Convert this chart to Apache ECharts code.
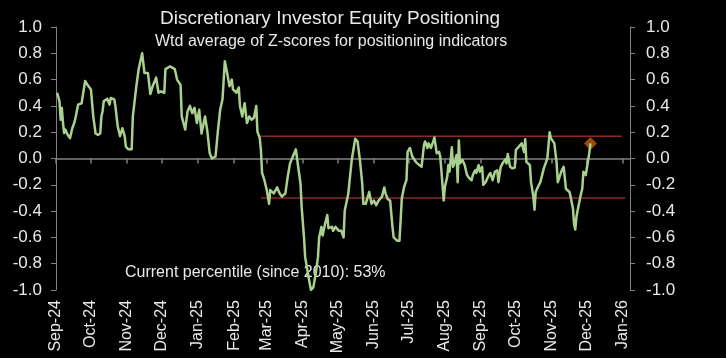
<!DOCTYPE html>
<html>
<head>
<meta charset="utf-8">
<script src="https://cdn.jsdelivr.net/npm/echarts@6/dist/echarts.min.js"></script>
<style>
html,body{margin:0;padding:0;background:#000;}
#chart{width:726px;height:358px;}
</style>
</head>
<body>
<div id="chart"></div>
<script>
// ---- data ----
const titleText = 'Discretionary Investor Equity Positioning';
const subtitleText = 'Wtd average of Z-scores for positioning indicators';
const noteText = 'Current percentile (since 2010): 53%';

const tickDates = ['2024-09-01','2024-10-01','2024-11-01','2024-12-01','2025-01-01','2025-02-01','2025-03-01','2025-04-01','2025-05-01','2025-06-01','2025-07-01','2025-08-01','2025-09-01','2025-10-01','2025-11-01','2025-12-01','2026-01-01'];
const tickLabels = ['Sep-24','Oct-24','Nov-24','Dec-24','Jan-25','Feb-25','Mar-25','Apr-25','May-25','Jun-25','Jul-25','Aug-25','Sep-25','Oct-25','Nov-25','Dec-25','Jan-26'];

const dates = ['2024-09-02','2024-09-04','2024-09-05','2024-09-06','2024-09-07','2024-09-08','2024-09-09','2024-09-11','2024-09-13','2024-09-15','2024-09-17','2024-09-18','2024-09-20','2024-09-23','2024-09-24','2024-09-26','2024-09-28',
'2024-10-01','2024-10-03','2024-10-05','2024-10-07','2024-10-09','2024-10-10','2024-10-11','2024-10-12','2024-10-15','2024-10-17','2024-10-18','2024-10-21','2024-10-22','2024-10-24','2024-10-26','2024-10-28','2024-10-30','2024-10-31',
'2024-11-02','2024-11-05','2024-11-06','2024-11-09','2024-11-11','2024-11-14','2024-11-16','2024-11-19','2024-11-21','2024-11-23','2024-11-26','2024-11-28','2024-11-30',
'2024-12-03','2024-12-04','2024-12-08','2024-12-12','2024-12-14','2024-12-17','2024-12-18','2024-12-21','2024-12-23','2024-12-25','2024-12-27','2024-12-29','2024-12-31',
'2025-01-02','2025-01-04','2025-01-07','2025-01-09','2025-01-11','2025-01-13','2025-01-16','2025-01-18','2025-01-20','2025-01-22','2025-01-24','2025-01-26','2025-01-28','2025-01-30','2025-01-31',
'2025-02-03','2025-02-05','2025-02-06','2025-02-08','2025-02-10','2025-02-12','2025-02-14','2025-02-16','2025-02-18','2025-02-20','2025-02-21','2025-02-23','2025-02-24','2025-02-25','2025-02-27',
'2025-03-01','2025-03-02','2025-03-03','2025-03-04','2025-03-07','2025-03-08','2025-03-10','2025-03-12','2025-03-14','2025-03-17','2025-03-19','2025-03-21','2025-03-24','2025-03-26','2025-03-28','2025-03-30','2025-03-31',
'2025-04-02','2025-04-03','2025-04-05','2025-04-07','2025-04-08','2025-04-10','2025-04-12','2025-04-14','2025-04-15','2025-04-17','2025-04-18','2025-04-20','2025-04-22','2025-04-23','2025-04-26','2025-04-27','2025-04-29',
'2025-05-02','2025-05-04','2025-05-06','2025-05-07','2025-05-10','2025-05-13','2025-05-16','2025-05-18','2025-05-20','2025-05-22','2025-05-23','2025-05-25','2025-05-28','2025-05-30',
'2025-06-01','2025-06-03','2025-06-05','2025-06-08','2025-06-10','2025-06-11','2025-06-13','2025-06-15','2025-06-17','2025-06-18','2025-06-21','2025-06-23','2025-06-24','2025-06-25','2025-06-27','2025-06-29','2025-06-30',
'2025-07-02','2025-07-04','2025-07-07','2025-07-10','2025-07-12','2025-07-14','2025-07-15','2025-07-17','2025-07-18','2025-07-20','2025-07-22','2025-07-23','2025-07-25','2025-07-27','2025-07-28','2025-07-29','2025-07-31',
'2025-08-01','2025-08-03','2025-08-04','2025-08-05','2025-08-07','2025-08-08','2025-08-10','2025-08-11','2025-08-12','2025-08-13','2025-08-14','2025-08-16','2025-08-18','2025-08-20','2025-08-22','2025-08-24','2025-08-25','2025-08-27','2025-08-28','2025-08-30','2025-08-31',
'2025-09-02','2025-09-03','2025-09-05','2025-09-07','2025-09-09','2025-09-11','2025-09-13','2025-09-15','2025-09-16','2025-09-18','2025-09-20','2025-09-22','2025-09-23','2025-09-24','2025-09-26','2025-09-28','2025-09-30',
'2025-10-01','2025-10-03','2025-10-06','2025-10-07','2025-10-08','2025-10-09','2025-10-10','2025-10-13','2025-10-14','2025-10-16','2025-10-17','2025-10-18','2025-10-20','2025-10-22','2025-10-23','2025-10-25','2025-10-28','2025-10-30','2025-10-31',
'2025-11-03','2025-11-05','2025-11-06','2025-11-09','2025-11-11','2025-11-13','2025-11-14','2025-11-16','2025-11-17','2025-11-19','2025-11-20','2025-11-21','2025-11-22','2025-11-23','2025-11-26','2025-11-27','2025-11-28','2025-11-30',
'2025-12-01','2025-12-03','2025-12-04'];

const values = [0.50,0.435,0.295,0.385,0.27,0.193,0.22,0.18,0.155,0.23,0.28,0.32,0.41,0.42,0.41,0.59,0.56,
0.525,0.32,0.19,0.18,0.19,0.32,0.36,0.435,0.455,0.41,0.46,0.45,0.40,0.245,0.17,0.23,0.17,0.09,
0.07,0.07,0.32,0.55,0.68,0.80,0.65,0.65,0.49,0.55,0.615,0.50,0.51,
0.50,0.68,0.70,0.68,0.60,0.56,0.32,0.22,0.36,0.40,0.345,0.385,0.27,
0.37,0.19,0.32,0.205,0.04,0.00,0.015,0.205,0.37,0.45,0.74,0.65,0.55,0.60,0.525,
0.50,0.54,0.40,0.32,0.42,0.27,0.32,0.295,0.31,0.40,0.205,0.155,0.065,-0.11,-0.165,
-0.24,-0.29,-0.345,-0.24,-0.265,-0.255,-0.22,-0.265,-0.29,-0.265,-0.14,-0.037,0.027,0.07,-0.063,-0.19,-0.37,
-0.60,-0.75,-0.855,-0.955,-1.0,-0.98,-0.88,-0.75,-0.60,-0.52,-0.585,-0.50,-0.43,-0.53,-0.52,-0.55,-0.52,
-0.55,-0.55,-0.60,-0.395,-0.27,-0.01,0.15,0.13,-0.01,-0.19,-0.345,-0.345,-0.255,-0.345,
-0.32,-0.355,-0.32,-0.29,-0.22,-0.265,-0.31,-0.32,-0.52,-0.60,-0.625,-0.625,-0.47,-0.305,-0.215,-0.165,0.05,
0.08,0.015,-0.025,-0.05,-0.063,0.10,0.13,0.08,0.115,0.08,0.13,0.16,0.04,0.05,0.015,-0.09,-0.32,
-0.215,-0.14,-0.05,-0.10,0.085,-0.063,-0.01,0.027,-0.18,0.136,-0.037,-0.01,-0.05,-0.126,-0.15,-0.165,-0.126,-0.09,-0.11,-0.05,-0.10,
-0.063,-0.20,-0.18,-0.14,-0.11,-0.165,-0.10,-0.09,-0.18,-0.063,-0.03,-0.005,-0.037,0.035,-0.063,-0.075,-0.07,
0.065,0.085,0.115,0.13,0.05,0.147,-0.025,-0.05,-0.18,-0.29,-0.39,-0.255,-0.215,-0.18,-0.18,-0.075,0.0,0.20,0.155,
0.115,-0.037,-0.18,-0.10,-0.063,-0.23,-0.215,-0.255,-0.29,-0.38,-0.50,-0.54,-0.445,-0.395,-0.265,-0.23,-0.10,-0.126,
-0.14,0.04,0.115];

const upperBandDates = ['2025-02-22','2025-12-31'];
const upperBandValue = 0.17;
const lowerBandDates = ['2025-02-24','2026-01-03'];
const lowerBandValue = -0.30;
const latestDate = '2025-12-04';
const latestValue = 0.115;

const xMin = '2024-09-01';
const xMax = '2026-01-07';

// ---- chart ----
function toTs(s){ const p = s.split('-').map(Number); return Date.UTC(p[0], p[1]-1, p[2]); }
const tickTs = tickDates.map(toTs);
const FONT = '"Liberation Sans", Arial, sans-serif';
const TXT = '#e8e8e8';
const AX = '#808080';

function xLabel(v){
  let best = 0, bd = Infinity;
  tickTs.forEach((t,k)=>{ const d = Math.abs(t - v); if (d < bd){ bd = d; best = k; } });
  return tickLabels[best];
}
function yLabel(v){ if (Math.abs(v) < 1e-9) return '0.0'; return v.toFixed(1); }

const chart = echarts.init(document.getElementById('chart'), null, {renderer:'canvas'});
const yCommon = {
  type:'value', min:-1, max:1, interval:0.2,
  axisLine:{show:true, lineStyle:{color:AX, width:1}},
  axisTick:{show:true, length:5, lineStyle:{color:AX}},
  splitLine:{show:false},
  axisLabel:{color:TXT, fontSize:17, fontFamily:FONT, formatter:yLabel}
};
chart.setOption({
  backgroundColor:'#000',
  animation:false,
  grid:{left:56, right:96, top:27, bottom:68},
  graphic:[
    {type:'text', left:160, top:9, style:{text:titleText, fill:TXT, font:'19px ' + FONT}},
    {type:'text', left:155, top:34, style:{text:subtitleText, fill:TXT, font:'16px ' + FONT}},
    {type:'text', left:125, top:265, style:{text:noteText, fill:TXT, font:'16px ' + FONT}}
  ],
  xAxis:[
    {
      type:'value', min:toTs(xMin), max:toTs(xMax), position:'bottom',
      axisLine:{show:true, onZero:true, lineStyle:{color:AX, width:1.5}},
      axisTick:{show:true, length:5, customValues:tickTs, lineStyle:{color:AX, width:1.5}},
      axisLabel:{show:false},
      splitLine:{show:false}
    },
    {
      type:'value', min:toTs(xMin), max:toTs(xMax), position:'bottom',
      axisLine:{show:false, onZero:false},
      axisTick:{show:false},
      splitLine:{show:false},
      axisLabel:{show:true, customValues:tickTs, rotate:90, margin:10, color:TXT, fontSize:16, fontFamily:FONT, formatter:xLabel, showMinLabel:true, showMaxLabel:true}
    }
  ],
  yAxis:[
    Object.assign({}, yCommon, {position:'left', axisLabel:Object.assign({}, yCommon.axisLabel, {margin:14})}),
    Object.assign({}, yCommon, {position:'right', axisLabel:Object.assign({}, yCommon.axisLabel, {margin:16})})
  ],
  series:[
    {type:'line', xAxisIndex:0, yAxisIndex:0, symbol:'none', silent:true,
     lineStyle:{color:'#8c2a2a', width:1.5},
     data:upperBandDates.map(d=>[toTs(d), upperBandValue])},
    {type:'line', xAxisIndex:0, yAxisIndex:0, symbol:'none', silent:true,
     lineStyle:{color:'#8c2a2a', width:1.5},
     data:lowerBandDates.map(d=>[toTs(d), lowerBandValue])},
    {type:'line', xAxisIndex:0, yAxisIndex:0, symbol:'none', silent:true,
     lineStyle:{color:'#a9d18e', width:2.5, join:'round'},
     data:dates.map((d,i)=>[toTs(d), values[i]])},
    {type:'scatter', xAxisIndex:0, yAxisIndex:0, symbol:'diamond', symbolSize:13, silent:true,
     itemStyle:{color:'#c55a11'},
     data:[[toTs(latestDate), latestValue]]}
  ]
});
</script>
</body>
</html>
